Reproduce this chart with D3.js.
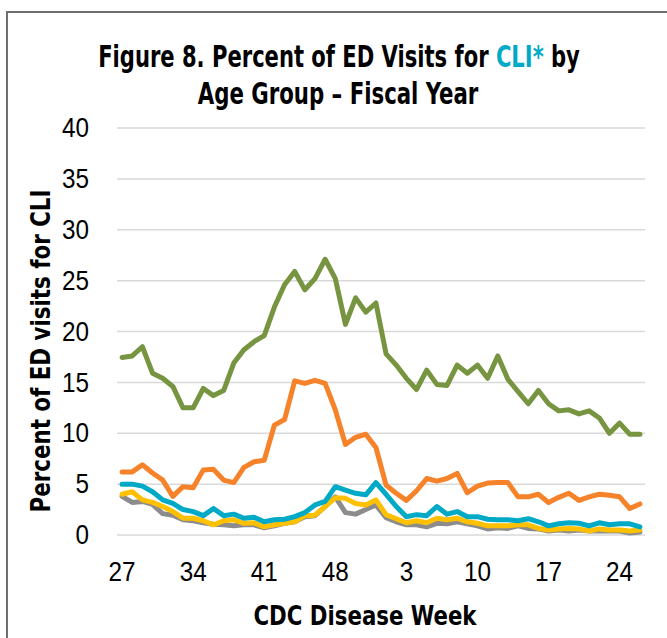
<!DOCTYPE html>
<html>
<head>
<meta charset="utf-8">
<script src="https://cdn.jsdelivr.net/npm/d3@7"></script>
<style>
	body { margin: 0; background: #fff; }
	svg { display: block; font-family: 'DejaVu Sans Condensed', 'DejaVu Sans', sans-serif; font-stretch: condensed; }
</style>
</head>
<body>
<svg id="chart" width="667" height="638"></svg>
<script>
const WEEKS = [
	27, 28, 29, 30, 31, 32, 33, 34, 35, 36, 37, 38, 39, 40, 41, 42, 43, 44, 45, 46, 47, 48, 49, 50, 51, 52,
	1, 2, 3, 4, 5, 6, 7, 8, 9, 10, 11, 12, 13, 14, 15, 16, 17, 18, 19, 20, 21, 22, 23, 24, 25, 26
];
const Y_TICKS = [0, 5, 10, 15, 20, 25, 30, 35, 40];

// age groups, drawn in this order (gray lowest)
const AGE_0_4 = [
	3.8, 3.2, 3.3, 3.0, 2.1, 1.95, 1.5, 1.4, 1.2, 1.05, 1.0, 0.9, 1.0, 1.0, 0.7, 0.9, 1.15, 1.3, 1.8, 1.9,
	2.8, 3.75, 2.2, 2.05, 2.5, 2.95, 1.7, 1.3, 1.0, 1.0, 0.8, 1.15, 1.1, 1.3, 1.1, 0.9, 0.6, 0.7, 0.65, 0.9,
	0.65, 0.6, 0.4, 0.5, 0.4, 0.5, 0.4, 0.4, 0.4, 0.4, 0.2, 0.3
];
const AGE_5_17 = [
	4.0, 4.25, 3.45, 3.2, 2.8, 2.3, 1.65, 1.65, 1.4, 1.0, 1.4, 1.5, 1.15, 1.2, 0.8, 1.0, 1.15, 1.3, 1.9, 1.95,
	2.8, 3.65, 3.6, 3.1, 2.95, 3.45, 2.0, 1.6, 1.2, 1.4, 1.2, 1.65, 1.5, 1.65, 1.3, 1.15, 0.9, 0.9, 0.9, 1.0,
	1.0, 0.65, 0.5, 0.6, 0.65, 0.6, 0.4, 0.6, 0.5, 0.5, 0.4, 0.5
];
const AGE_18_44 = [
	5.0, 5.0, 4.8, 4.25, 3.45, 3.1, 2.5, 2.3, 1.9, 2.6, 1.9, 2.05, 1.65, 1.75, 1.3, 1.5, 1.55, 1.8, 2.2, 2.95,
	3.3, 4.75, 4.4, 4.1, 3.95, 5.15, 4.0, 2.8, 1.8, 2.0, 1.9, 2.8, 2.05, 2.3, 1.8, 1.8, 1.55, 1.5, 1.5, 1.4,
	1.6, 1.3, 0.9, 1.1, 1.2, 1.15, 0.9, 1.2, 1.0, 1.1, 1.1, 0.8
];
const AGE_45_64 = [
	6.2, 6.2, 6.9, 6.1, 5.4, 3.8, 4.75, 4.65, 6.4, 6.45, 5.4, 5.15, 6.65, 7.2, 7.35, 10.8, 11.35, 15.15, 14.9, 15.2,
	14.9, 12.3, 8.9, 9.6, 9.9, 8.6, 4.9, 4.1, 3.4, 4.35, 5.55, 5.3, 5.55, 6.05, 4.15, 4.8, 5.1, 5.15, 5.15, 3.75,
	3.75, 4.0, 3.2, 3.7, 4.1, 3.4, 3.75, 4.0, 3.9, 3.75, 2.6, 3.05
];
const AGE_65_UP = [
	17.45, 17.6, 18.5, 15.9, 15.4, 14.6, 12.5, 12.5, 14.4, 13.7, 14.2, 16.9, 18.2, 19.0, 19.6, 22.4, 24.6, 25.9, 24.1, 25.2,
	27.1, 25.2, 20.7, 23.3, 21.9, 22.8, 17.8, 16.7, 15.4, 14.3, 16.2, 14.8, 14.7, 16.7, 15.9, 16.7, 15.4, 17.6, 15.3, 14.1,
	12.9, 14.2, 12.9, 12.2, 12.3, 11.9, 12.2, 11.5, 10.0, 11.0, 9.9, 9.9
];

const SERIES = [
	{ name: '0-4', color: '#8c8c8c', values: AGE_0_4 },
	{ name: '5-17', color: '#ffc000', values: AGE_5_17 },
	{ name: '18-44', color: '#00a9c6', values: AGE_18_44 },
	{ name: '45-64', color: '#f6822a', values: AGE_45_64 },
	{ name: '65+', color: '#779440', values: AGE_65_UP }
];

const MARGIN = { top: 128, right: 22, bottom: 103, left: 117 };
const WIDTH = 667;
const HEIGHT = 638;

const $svg = d3.select('#chart');

// squeeze a centred label to a given width (the source font is narrow)
function fitText($g, width) {
	const w = $g.node().getBBox().width;
	return w ? width / w : 1;
}

function label({ cx, cy, width, size, rotate = 0, build }) {
	const $g = $svg.append('g');
	const $text = $g.append('text')
		.attr('text-anchor', 'middle')
		.attr('font-weight', 'bold')
		.attr('font-size', size)
		.attr('fill', '#000');
	build($text);
	const k = fitText($text, width);
	$g.attr('transform', `translate(${cx},${cy}) rotate(${rotate}) scale(${k},1)`);
}

// outer frame (runs off the right and bottom edges)
$svg.append('rect')
	.attr('x', 7)
	.attr('y', 12)
	.attr('width', 700)
	.attr('height', 700)
	.attr('fill', 'none')
	.attr('stroke', '#6f6f6f')
	.attr('stroke-width', 2);

label({
	cx: 339, cy: 67, width: 482, size: 31,
	build: $t => {
		$t.append('tspan').text('Figure 8. Percent of ED Visits for ');
		$t.append('tspan').attr('fill', '#00a9c6').text('CLI*');
		$t.append('tspan').text(' by');
	}
});
label({
	cx: 338, cy: 104, width: 281, size: 31,
	build: $t => $t.text('Age Group \u2013 Fiscal Year')
});

const x = d3.scaleBand()
	.domain(d3.range(WEEKS.length))
	.range([MARGIN.left, WIDTH - MARGIN.right]);
const y = d3.scaleLinear()
	.domain([0, 40])
	.range([HEIGHT - MARGIN.bottom, MARGIN.top]);

// gridlines
$svg.append('g')
	.selectAll('line')
	.data(Y_TICKS)
	.join('line')
	.attr('x1', MARGIN.left)
	.attr('x2', WIDTH - MARGIN.right)
	.attr('y1', d => y(d))
	.attr('y2', d => y(d))
	.attr('stroke', '#d9d9d9')
	.attr('stroke-width', 1.5);

// y axis
const yAxis = d3.axisLeft(y).tickValues(Y_TICKS).tickSize(0).tickPadding(28);
const $yAxis = $svg.append('g')
	.attr('transform', `translate(${MARGIN.left},0)`)
	.call(yAxis);
$yAxis.select('.domain').remove();
$yAxis.selectAll('text')
	.attr('font-family', null)
	.attr('font-size', 27)
	.attr('fill', '#000');

// x axis
const xAxis = d3.axisBottom(x)
	.tickValues(d3.range(0, WEEKS.length, 7))
	.tickFormat(i => WEEKS[i])
	.tickSize(0)
	.tickPadding(27);
const $xAxis = $svg.append('g')
	.attr('transform', `translate(0,${HEIGHT - MARGIN.bottom})`)
	.call(xAxis);
$xAxis.select('.domain').remove();
$xAxis.selectAll('text')
	.attr('font-family', null)
	.attr('font-size', 27)
	.attr('fill', '#000');
$svg.selectAll('.tick text').each(function() {
	// narrow the digits a little around their own anchor
	const $t = d3.select(this);
	const bb = this.getBBox();
	const ax = this.parentNode.parentNode === $yAxis.node() ? bb.x + bb.width : bb.x + bb.width / 2;
	$t.attr('transform', `translate(${ax},0) scale(0.9,1) translate(${-ax},0)`);
});

// axis titles
label({
	cx: 365, cy: 625, width: 224, size: 27,
	build: $t => $t.text('CDC Disease Week')
});
label({
	cx: 50, cy: 351, width: 323, size: 27, rotate: -90,
	build: $t => $t.text('Percent of ED visits for CLI')
});

// lines
const line = d3.line()
	.x((d, i) => x(i) + x.bandwidth() / 2)
	.y(d => y(d));

$svg.append('g')
	.selectAll('path')
	.data(SERIES)
	.join('path')
	.attr('d', d => line(d.values))
	.attr('fill', 'none')
	.attr('stroke', d => d.color)
	.attr('stroke-width', 5)
	.attr('stroke-linejoin', 'round')
	.attr('stroke-linecap', 'round');
</script>
</body>
</html>
